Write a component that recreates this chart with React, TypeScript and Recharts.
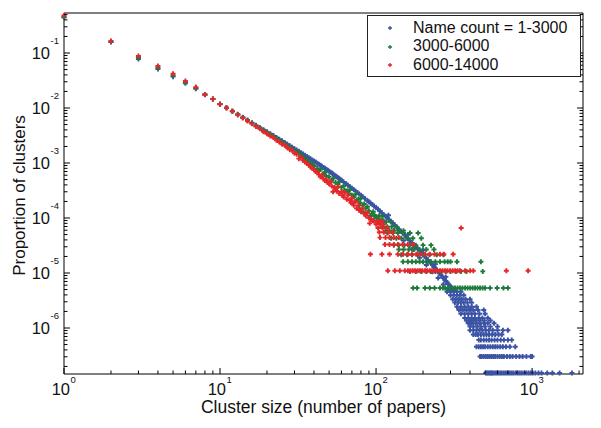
import React from 'react';
import { ScatterChart, Scatter, XAxis, YAxis, Legend, Label } from 'recharts';

const FONT = '"Liberation Sans", Arial, Helvetica, sans-serif';
const BLUE = '#3b53a4';
const GREEN = '#1d7b3b';
const RED = '#e5262a';

// ---- series names ----
const seriesNames = ['Name count = 1-3000', '3000-6000', '6000-14000'];

// ---- blue (1-3000): main curve ----
const blueX = [1,2,3,4,5,6,7,8,9,10,11,12,13,14,15,16,17,18,19,20,21,22,23,24,25,26,27,28,29,30,
  32,34,36,38,40,42,45,48,51,54,57,60,64,68,72,76,80,85,90,95,100,106,112,118,125,
  132,140,148,156,165,175,185,195,205,215,225,235,245,255,265,275,285,295,305,315];
const blueY = [0.452,0.158,0.0776,0.0513,0.0372,0.0282,0.0224,0.0174,0.0145,0.0117,
  0.0101,0.00877,0.00769,0.00679,0.00604,0.00541,0.00488,0.00443,0.00404,0.0037,
  0.0034,0.00315,0.00292,0.00271,0.00253,0.00236,0.0022,0.00207,0.00194,0.00182,
  0.00163,0.00146,0.00131,0.00119,0.00109,
  0.000991,0.000869,0.000769,0.000682,0.000605,0.000541,0.000485,
  0.000423,0.00037,0.000327,0.00029,0.000259,
  0.000225,0.000197,0.000174,0.000155,
  0.000133,0.000115,0.000101,0.0000867,
  0.0000741,0.0000625,0.0000532,0.0000457,
  0.0000387,0.0000324,0.0000274,0.0000234,0.00002,0.0000172,0.0000149,0.0000129,
  0.0000113,0.00000993,0.00000869,0.00000762,0.00000673,0.00000597,0.00000531,0.00000474];
const blueBandX = [31,33,35,37,39,41,43,44,46,47,49,50,52,53,55,56,58,59,62,66,70,74,78,82,88,92,97,
  103,109,115,121,128,136,144,152,160,170,180,190,200,210,220,230,240,250,260,270,280,290,300,310];
const blueBandY = [0.00172,0.00154,0.00138,0.00125,0.00114,0.00104,0.000947,0.000906,0.000833,0.0008,
  0.000739,0.000711,0.000655,0.000629,0.000582,0.000561,0.000521,0.000502,0.000453,0.000395,
  0.000347,0.000308,0.000274,0.000244,0.000207,0.000187,0.000166,
  0.000144,0.000124,0.000108,0.0000944,0.0000811,0.0000681,0.0000577,0.0000493,0.0000425,
  0.0000354,0.0000298,0.0000253,0.0000217,0.0000186,0.000016,0.0000139,0.0000121,0.0000106,
  0.00000927,0.00000813,0.00000716,0.00000634,0.00000562,0.00000501];
const blueSpreadX = [110,130,150,170,190,210,230,250,270,290,120,160,200,240,280,320];
const blueSpreadY = [0.000091,0.000059,0.000039,0.000027,0.000019,0.000014,0.0000105,0.0000081,0.0000062,0.0000048,
  0.000112,0.00005,0.000026,0.0000145,0.0000085,0.0000052];
const blueRows = [
  { y: 4.56e-6, xs: [285,300,315,330,350] },
  { y: 3.95e-6, xs: [300,315,330,345,365] },
  { y: 3.34e-6, xs: [310,325,340,355,375,400] },
  { y: 2.89e-6, xs: [320,335,350,365,385,410] },
  { y: 2.43e-6, xs: [330,350,370,390,410,440] },
  { y: 2.13e-6, xs: [340,360,380,400,420,450,490] },
  { y: 1.82e-6, xs: [350,370,390,410,430,460,500] },
  { y: 1.52e-6, xs: [370,390,410,430,455,480,520] },
  { y: 1.37e-6, xs: [380,400,420,440,465,495,540] },
  { y: 1.22e-6, xs: [390,410,435,460,490,520,570] },
  { y: 1.06e-6, xs: [400,420,445,470,500,540,600] },
  { y: 9.12e-7, xs: [400,420,440,460,480,505,530,560,600,650,700] },
  { y: 7.6e-7, xs: [420,435,450,470,490,510,530,555,580,610,640] },
  { y: 6.08e-7, xs: [455,470,490,510,530,550,575,600,630,660,700,740] },
  { y: 4.56e-7, xs: [440,455,470,485,500,520,540,560,580,600,625,650,680,720,780] },
  { y: 3.04e-7, xs: [464,475,490,505,520,535,550,565,580,600,620,640,660,690,720,750,790,830,870,920,980,1000] },
  { y: 1.52e-7, xs: [505,515,525,535,545,555,565,580,595,610,625,640,660,680,700,720,740,760,785,810,835,860,890,920,950,980,1010,1050,1100,1150,1250,1350,1500,1800] },
];

// ---- green (3000-6000) ----
const greenX = [1,2,3,4,5,6,7,8,9,10,11,12,13,14,15,16,17,18,19,20,21,22,23,24,25,26,27,28,29,30,
  31,32,33,34,35,36,37,38,39,40,42,43,44,46,47,48,50,52,53,55,57,58,60,62,63,65,67,68,70,72,
  74,75,77,78,79,80,82,83,84,86,88,90,92,94,96,98,100,103,105,108];
const greenY = [0.44,0.16,0.082,0.054,0.039,0.029,0.023,0.0176,0.0146,0.0118,
  0.0101,0.0087,0.0076,0.0067,0.0059,0.0053,0.0047,0.0043,0.0039,0.0035,
  0.0033,0.003,0.0028,0.0025,0.0024,0.0022,0.00205,0.0019,0.00172,0.0017,
  0.00155,0.0015,0.00135,0.0013,0.00118,0.00112,0.00105,0.00098,0.00095,0.00088,
  0.0008,0.00072,0.00076,0.00064,0.00068,0.00058,0.00056,0.00048,0.00052,0.00044,
  0.00041,0.00045,0.00036,0.00038,0.00032,0.00031,0.00028,0.00033,0.00026,0.00024,
  0.00027,0.00021,0.00022,0.00015,0.00019,0.00023,0.00017,0.00013,0.00018,0.00015,
  0.00016,0.000135,0.00011,0.00012,0.00013,0.00011,0.000105,0.000095,0.00011,0.00009];
const greenRows = [
  { y: 1.07e-4, xs: [98,104,110] },
  { y: 8.56e-5, xs: [104,110,116,124] },
  { y: 6.96e-5, xs: [110,118,126,135] },
  { y: 5.89e-5, xs: [115,122,130,140,150] },
  { y: 5.35e-5, xs: [118,128,138,150,165,186] },
  { y: 4.28e-5, xs: [125,135,145,158,172,195] },
  { y: 3.21e-5, xs: [130,140,152,165,180,200,225] },
  { y: 2.68e-5, xs: [140,150,162,175,190,210,235] },
  { y: 2.14e-5, xs: [145,158,170,185,200,220,245,270] },
  { y: 1.6e-5, xs: [149,160,170,180,190,200,212,225,240,257,275,288,300,330,470] },
  { y: 1.07e-5, xs: [165,180,195,210,225,240,260,280,300,325,350,380,483] },
  { y: 5.35e-6, xs: [173,183,206,221,237,257,268,277,288,298,310,321,333,345,358,372,386,401,416,431,447,464,482,500,538,597,655,700] },
];

// ---- red (6000-14000) ----
const redX = [1,2,3,4,5,6,7,8,9,10,11,12,13,14,15,16,17,18,19,20,21,22,23,24,25,26,27,28,29,30,
  31,32,33,34,35,36,37,38,39,40,41,42,43,44,45,46,47,48,49,50,51,52,53,54,55,56,57,58,60,61,
  62,63,65,66,68,69,70,71,72,74,75,77,78,80,82,84,86,88,90,91,93,95];
const redY = [0.48,0.166,0.088,0.058,0.042,0.031,0.024,0.0176,0.0146,0.0117,
  0.01,0.0087,0.0075,0.0066,0.0058,0.0052,0.0046,0.0042,0.0037,0.0034,
  0.0031,0.0029,0.0026,0.0024,0.0022,0.0021,0.0019,0.00175,0.0017,0.0015,
  0.00145,0.0012,0.00128,0.00112,0.00105,0.00098,0.00092,0.00085,0.0008,0.00076,
  0.0007,0.00068,0.00062,0.00056,0.0006,0.00052,0.00048,0.0005,0.00044,0.00042,
  0.00046,0.00038,0.0003,0.00036,0.00034,0.00031,0.00037,0.00028,0.0003,0.00026,
  0.00024,0.00029,0.00022,0.00026,0.00021,0.00019,0.00023,0.00019,0.00017,0.0002,
  0.00015,0.00017,0.00014,0.00013,0.00015,0.00012,0.00011,0.000125,0.0001,0.00008,
  0.000095,0.00009];
const redRows = [
  { y: 8.8e-5, xs: [97,102,108] },
  { y: 7.7e-5, xs: [100,106,112] },
  { y: 6.6e-5, xs: [103,110,118,351] },
  { y: 5.5e-5, xs: [105,112,120,128] },
  { y: 4.4e-5, xs: [106,115,122,130,140] },
  { y: 3.3e-5, xs: [114,122,130,138,148,160,172] },
  { y: 2.2e-5, xs: [92,109,122,138,149,160,170,181,191,206,221,237,257,272,312] },
  { y: 1.1e-5, xs: [119,132,142,153,160,166,172,178,185,191,198,206,213,221,229,237,247,257,267,277,287,298,310,321,333,345,372,401,420,684,943] },
];

// ---- axis ticks ----
const xMajor = [1, 10, 100, 1000];
const xTicks = [1,2,3,4,5,6,7,8,9,10,20,30,40,50,60,70,80,90,100,200,300,400,500,600,700,800,900,1000,2000];
const yMajor = [1e-6, 1e-5, 1e-4, 1e-3, 1e-2, 1e-1];
const yTicks = [2e-7,3e-7,4e-7,5e-7,6e-7,7e-7,8e-7,9e-7,1e-6,2e-6,3e-6,4e-6,5e-6,6e-6,7e-6,8e-6,9e-6,
  1e-5,2e-5,3e-5,4e-5,5e-5,6e-5,7e-5,8e-5,9e-5,1e-4,2e-4,3e-4,4e-4,5e-4,6e-4,7e-4,8e-4,9e-4,
  1e-3,2e-3,3e-3,4e-3,5e-3,6e-3,7e-3,8e-3,9e-3,1e-2,2e-2,3e-2,4e-2,5e-2,6e-2,7e-2,8e-2,9e-2,
  1e-1,2e-1,3e-1,4e-1,5e-1];
const xDomain = [1, 2120];
const yDomain = [1.458e-7, 0.534];

const pairs = (xs: number[], ys: number[]) => xs.map((x, i) => ({ x, y: ys[i] }));
const rowsToPoints = (rows: { y: number; xs: number[] }[]) => rows.flatMap(r => r.xs.map(x => ({ x, y: r.y })));

const blueData = [...pairs(blueX, blueY), ...pairs(blueBandX, blueBandY), ...pairs(blueSpreadX, blueSpreadY), ...rowsToPoints(blueRows)];
const greenData = [...pairs(greenX, greenY), ...rowsToPoints(greenRows)];
const redData = [...pairs(redX, redY), ...rowsToPoints(redRows)];

const plus = (color: string) => (props: any) => {
  const { cx, cy } = props;
  if (cx == null || cy == null || isNaN(cx) || isNaN(cy)) return <g />;
  const r = 2.5;
  return (
    <path d={`M${cx - r},${cy}H${cx + r}M${cx},${cy - r}V${cy + r}`} stroke={color} strokeWidth={1.9} fill="none" />
  );
};

const isMajor = (v: number, list: number[]) => list.some(m => Math.abs(v - m) <= m * 1e-9);
const expOf = (v: number) => Math.round(Math.log10(v));

const BottomTick = (props: any) => {
  const { x, y, payload } = props;
  const v = payload.value;
  const major = isMajor(v, xMajor);
  return (
    <g>
      <line x1={x} x2={x} y1={y} y2={y - (major ? 6 : 3.5)} stroke="#000" strokeWidth={1} />
      {major && (
        <text x={x + 6} y={y + 21} textAnchor="end" fontSize={16.5} fontFamily={FONT} fill="#111">10</text>
      )}
      {major && (
        <text x={x + 6.5} y={y + 8.5} textAnchor="start" fontSize={9.5} fontFamily={FONT} fill="#111">{expOf(v)}</text>
      )}
    </g>
  );
};

const TopTick = (props: any) => {
  const { x, y, payload } = props;
  const major = isMajor(payload.value, xMajor);
  return <line x1={x} x2={x} y1={y} y2={y + (major ? 6 : 3.5)} stroke="#000" strokeWidth={1} />;
};

const LeftTick = (props: any) => {
  const { x, y, payload } = props;
  const v = payload.value;
  const major = isMajor(v, yMajor);
  return (
    <g>
      <line x1={x} x2={x + (major ? 6 : 3.5)} y1={y} y2={y} stroke="#000" strokeWidth={1} />
      {major && (
        <text x={x - 14} y={y + 5.5} textAnchor="end" fontSize={16.5} fontFamily={FONT} fill="#111">10</text>
      )}
      {major && (
        <text x={x - 13.5} y={y - 9} textAnchor="start" fontSize={9.5} fontFamily={FONT} fill="#111">{String(expOf(v))}</text>
      )}
    </g>
  );
};

const RightTick = (props: any) => {
  const { x, y, payload } = props;
  const major = isMajor(payload.value, yMajor);
  return <line x1={x} x2={x - (major ? 6 : 3.5)} y1={y} y2={y} stroke="#000" strokeWidth={1} />;
};

const LegendBox = () => {
  const colors = [BLUE, GREEN, RED];
  return (
    <div style={{
      boxSizing: 'border-box', width: 214, height: 62, border: '1px solid #222', background: '#fff',
      paddingTop: 2.75, fontFamily: FONT, fontSize: 16, color: '#111',
    }}>
      {seriesNames.map((n, i) => (
        <div key={n} style={{ position: 'relative', height: 18.5, lineHeight: '18.5px' }}>
          <svg width={6} height={6} style={{ position: 'absolute', left: 19, top: 6.25 }}>
            <path d="M1,3H5M3,1V5" stroke={colors[i]} strokeWidth={1.3} />
          </svg>
          <span style={{ position: 'absolute', left: 45, top: 0, whiteSpace: 'nowrap' }}>{n}</span>
        </div>
      ))}
    </div>
  );
};

const XTitle = () => (
  <text x={315.5} y={405} textAnchor="middle" fontSize={17.5} fontFamily={FONT} fill="#111">
    Cluster size (number of papers)
  </text>
);
const YTitle = () => (
  <text x={17} y={187.5} transform="rotate(-90 17 187.5)" textAnchor="middle" fontSize={17} fontFamily={FONT} fill="#111">
    Proportion of clusters
  </text>
);

export default function App() {
  return (
    <div style={{ width: 590, height: 415, background: '#fff' }}>
      <ScatterChart width={590} height={415} margin={{ top: 4, right: 14, bottom: 0, left: 0 }}>
        <XAxis xAxisId="bottom" dataKey="x" type="number" scale="log" domain={xDomain} ticks={xTicks}
          interval={0} tickSize={0} tickMargin={0} tickLine={false} height={49}
          axisLine={{ stroke: '#000' }} tick={<BottomTick />} orientation="bottom">
          <Label content={<XTitle />} />
        </XAxis>
        <XAxis xAxisId="top" type="number" scale="log" domain={xDomain} ticks={xTicks} allowDataOverflow
          interval={0} tickSize={0} tickMargin={0} tickLine={false} height={1}
          axisLine={{ stroke: '#000' }} tick={<TopTick />} orientation="top" />
        <YAxis yAxisId="left" dataKey="y" type="number" scale="log" domain={yDomain} ticks={yTicks}
          interval={0} tickSize={0} tickMargin={0} tickLine={false} width={56}
          axisLine={{ stroke: '#000' }} tick={<LeftTick />} orientation="left">
          <Label content={<YTitle />} />
        </YAxis>
        <YAxis yAxisId="right" type="number" scale="log" domain={yDomain} ticks={yTicks} allowDataOverflow
          interval={0} tickSize={0} tickMargin={0} tickLine={false} width={1}
          axisLine={{ stroke: '#000' }} tick={<RightTick />} orientation="right" />
        <Scatter name={seriesNames[0]} data={blueData} xAxisId="bottom" yAxisId="left" shape={plus(BLUE)} isAnimationActive={false} />
        <Scatter name={seriesNames[1]} data={greenData} xAxisId="bottom" yAxisId="left" shape={plus(GREEN)} isAnimationActive={false} />
        <Scatter name={seriesNames[2]} data={redData} xAxisId="bottom" yAxisId="left" shape={plus(RED)} isAnimationActive={false} />
        <Scatter data={[{ x: 10, y: 0.001 }]} xAxisId="top" yAxisId="right" shape={() => <g />} legendType="none" isAnimationActive={false} />
        <Legend layout="vertical" verticalAlign="middle" align="center"
          wrapperStyle={{ top: 7, left: 359, width: 214, height: 62 }} content={<LegendBox />} />
      </ScatterChart>
    </div>
  );
}
